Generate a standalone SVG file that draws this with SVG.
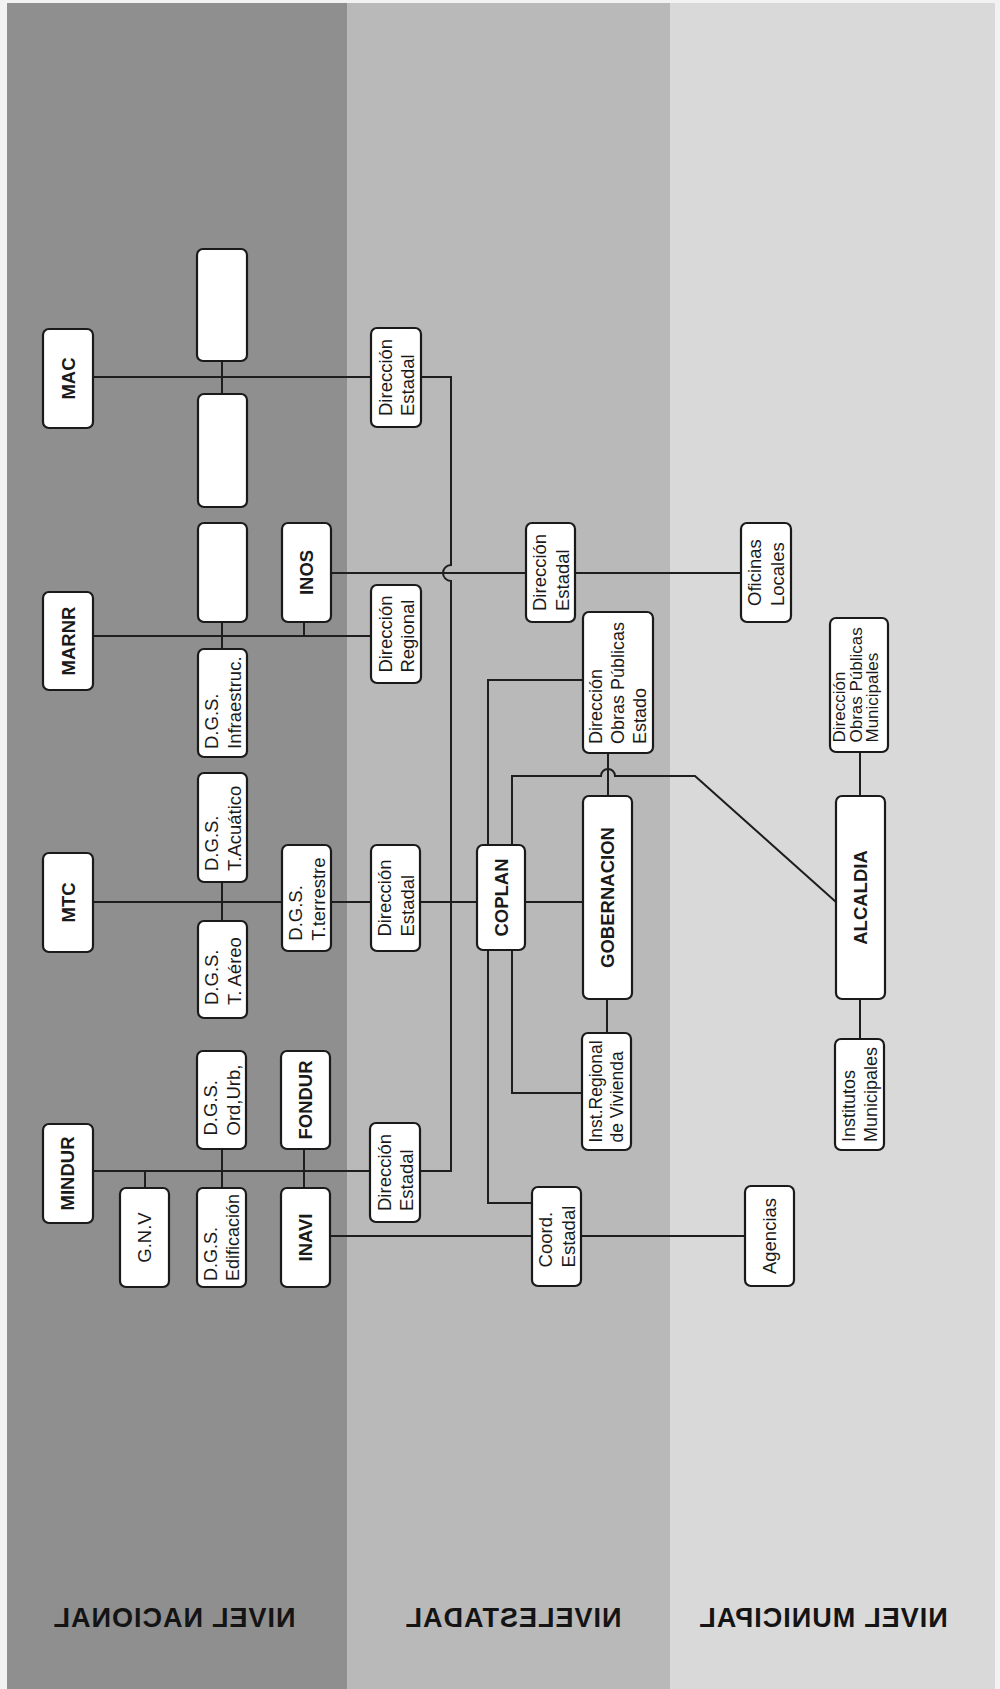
<svg xmlns="http://www.w3.org/2000/svg" width="1000" height="1689" viewBox="0 0 1000 1689">
<style>
.box{fill:#ffffff;stroke:#1a1a1a;stroke-width:2.2}
.ln{fill:none;stroke:#1e1e1e;stroke-width:2}
.t{font-family:"Liberation Sans",Arial,sans-serif;font-size:18.5px;fill:#1a1a1a}
.b{font-family:"Liberation Sans",Arial,sans-serif;font-size:18.5px;font-weight:bold;fill:#1a1a1a;text-anchor:middle}
.lvl{font-family:"Liberation Sans",Arial,sans-serif;font-size:27px;font-weight:bold;fill:#141414;text-anchor:middle;letter-spacing:1px}
</style>
<rect x="0" y="0" width="1000" height="1689" fill="#f2f2f2"/>
<g id="bands">
<rect x="7" y="3" width="340" height="1686" fill="#8f8f8f"/>
<rect x="347" y="3" width="323" height="1686" fill="#b9b9b9"/>
<rect x="670" y="3" width="325" height="1686" fill="#d9d9d9"/>
</g>
<g id="connectors">
<path class="ln" d="M93,377 H371"/>
<path class="ln" d="M222,361 V394"/>
<path class="ln" d="M421,377 H451 V565 A8,8 0 0 0 451,581 V1171 H420"/>
<path class="ln" d="M331,573 H526 M575,573 H741"/>
<path class="ln" d="M93,636 H371"/>
<path class="ln" d="M222,622 V649"/>
<path class="ln" d="M304,622 V636"/>
<path class="ln" d="M93,902 H282 M331,902 H371 M420,902 H477 M525,902 H583"/>
<path class="ln" d="M222,882 V921"/>
<path class="ln" d="M488,845 V680 H583"/>
<path class="ln" d="M512,845 V776 H601 A7,7 0 0 1 615,776 H695 L836,902"/>
<path class="ln" d="M608,753 V796"/>
<path class="ln" d="M607,999 V1033"/>
<path class="ln" d="M488,950 V1203 H532"/>
<path class="ln" d="M512,950 V1093 H582"/>
<path class="ln" d="M860,752 V796"/>
<path class="ln" d="M860,999 V1039"/>
<path class="ln" d="M93,1171 H370"/>
<path class="ln" d="M145,1171 V1188"/>
<path class="ln" d="M222,1149 V1188"/>
<path class="ln" d="M304,1149 V1188"/>
<path class="ln" d="M330,1236 H532 M581,1236 H745"/>
</g>
<g id="mac"><rect class="box" x="43" y="329" width="50" height="99" rx="6"/><text class="b" transform="translate(74.6,378.5) rotate(-90)">MAC</text></g>
<g id="blank1"><rect class="box" x="197" y="249" width="50" height="112" rx="6"/></g>
<g id="blank2"><rect class="box" x="198" y="394" width="49" height="113" rx="6"/></g>
<g id="blank3"><rect class="box" x="198" y="523" width="49" height="99" rx="6"/></g>
<g id="inos"><rect class="box" x="282" y="523" width="49" height="99" rx="6"/><text class="b" transform="translate(313,572.5) rotate(-90)">INOS</text></g>
<g id="dir-estadal-mac"><rect class="box" x="371" y="328" width="50" height="99" rx="6"/><text class="t" transform="translate(391.5,416) rotate(-90)"><tspan x="0">Dirección</tspan><tspan x="0" dy="22.5">Estadal</tspan></text></g>
<g id="marnr"><rect class="box" x="43" y="592" width="50" height="98" rx="6"/><text class="b" transform="translate(74.6,641) rotate(-90)">MARNR</text></g>
<g id="dir-regional"><rect class="box" x="371" y="585" width="50" height="98" rx="6"/><text class="t" transform="translate(391.5,672.6) rotate(-90)"><tspan x="0">Dirección</tspan><tspan x="0" dy="22.5">Regional</tspan></text></g>
<g id="dgs-infraestruc"><rect class="box" x="198" y="649" width="49" height="108" rx="6"/><text class="t" transform="translate(218,749) rotate(-90)"><tspan x="0">D.G.S.</tspan><tspan x="0" dy="22.5">Infraestruc.</tspan></text></g>
<g id="dgs-acuatico"><rect class="box" x="198" y="773" width="49" height="109" rx="6"/><text class="t" transform="translate(218,871) rotate(-90)"><tspan x="0">D.G.S.</tspan><tspan x="0" dy="22.5">T.Acuático</tspan></text></g>
<g id="mtc"><rect class="box" x="43" y="853" width="50" height="99" rx="6"/><text class="b" transform="translate(74.6,902.5) rotate(-90)">MTC</text></g>
<g id="dgs-aereo"><rect class="box" x="198" y="921" width="49" height="97" rx="6"/><text class="t" transform="translate(218,1005) rotate(-90)"><tspan x="0">D.G.S.</tspan><tspan x="0" dy="22.5">T. Aéreo</tspan></text></g>
<g id="dgs-terrestre"><rect class="box" x="282" y="845" width="49" height="106" rx="6"/><text class="t" transform="translate(302,940.7) rotate(-90)"><tspan x="0">D.G.S.</tspan><tspan x="0" dy="22.5">T.terrestre</tspan></text></g>
<g id="dir-estadal-mtc"><rect class="box" x="371" y="845" width="49" height="106" rx="6"/><text class="t" transform="translate(391,936.6) rotate(-90)"><tspan x="0">Dirección</tspan><tspan x="0" dy="22.5">Estadal</tspan></text></g>
<g id="coplan"><rect class="box" x="477" y="845" width="48" height="105" rx="6"/><text class="b" transform="translate(507.6,897.5) rotate(-90)">COPLAN</text></g>
<g id="dir-estadal-inos"><rect class="box" x="526" y="523" width="49" height="99" rx="6"/><text class="t" transform="translate(546,611) rotate(-90)"><tspan x="0">Dirección</tspan><tspan x="0" dy="22.5">Estadal</tspan></text></g>
<g id="oficinas-locales"><rect class="box" x="741" y="523" width="50" height="99" rx="6"/><text class="t" transform="translate(761,606) rotate(-90)"><tspan x="0">Oficinas</tspan><tspan x="0" dy="22.5">Locales</tspan></text></g>
<g id="dir-obras-publicas-estado"><rect class="box" x="583" y="612" width="70" height="141" rx="6"/><text class="t" style="font-size:18px" transform="translate(602,744) rotate(-90)"><tspan x="0">Dirección</tspan><tspan x="0" dy="22">Obras Públicas</tspan><tspan x="0" dy="22">Estado</tspan></text></g>
<g id="dir-obras-publicas-municipales"><rect class="box" x="830" y="618" width="58" height="134" rx="6"/><text class="t" style="font-size:17px" transform="translate(845,742.5) rotate(-90)"><tspan x="0">Dirección</tspan><tspan x="0" dy="16.5">Obras Públicas</tspan><tspan x="0" dy="16.5">Municipales</tspan></text></g>
<g id="gobernacion"><rect class="box" x="583" y="796" width="49" height="203" rx="6"/><text class="b" transform="translate(614,897.5) rotate(-90)">GOBERNACION</text></g>
<g id="alcaldia"><rect class="box" x="836" y="796" width="49" height="203" rx="6"/><text class="b" transform="translate(867,897.5) rotate(-90)">ALCALDIA</text></g>
<g id="inst-regional-vivienda"><rect class="box" x="582" y="1033" width="49" height="117" rx="6"/><text class="t" style="font-size:17.5px" transform="translate(602,1142.5) rotate(-90)"><tspan x="0">Inst.Regional</tspan><tspan x="0" dy="21">de Vivienda</tspan></text></g>
<g id="institutos-municipales"><rect class="box" x="835" y="1039" width="49" height="111" rx="6"/><text class="t" style="font-size:18px" transform="translate(855,1142) rotate(-90)"><tspan x="0">Institutos</tspan><tspan x="0" dy="22">Municipales</tspan></text></g>
<g id="mindur"><rect class="box" x="43" y="1124" width="50" height="99" rx="6"/><text class="b" transform="translate(74,1173.5) rotate(-90)">MINDUR</text></g>
<g id="dgs-ord-urb"><rect class="box" x="197" y="1051" width="49" height="98" rx="6"/><text class="t" transform="translate(217,1135.5) rotate(-90)"><tspan x="0">D.G.S.</tspan><tspan x="0" dy="22.5">Ord,Urb,</tspan></text></g>
<g id="fondur"><rect class="box" x="281" y="1051" width="49" height="98" rx="6"/><text class="b" transform="translate(312,1100) rotate(-90)">FONDUR</text></g>
<g id="gnv"><rect class="box" x="120" y="1188" width="49" height="99" rx="6"/><text class="t" text-anchor="middle" transform="translate(151,1237.5) rotate(-90)">G.N.V</text></g>
<g id="dgs-edificacion"><rect class="box" x="197" y="1188" width="49" height="99" rx="6"/><text class="t" style="font-size:18px" transform="translate(217,1281) rotate(-90)"><tspan x="0">D.G.S.</tspan><tspan x="0" dy="22">Edificación</tspan></text></g>
<g id="inavi"><rect class="box" x="281" y="1188" width="49" height="99" rx="6"/><text class="b" transform="translate(312,1237.5) rotate(-90)">INAVI</text></g>
<g id="dir-estadal-mindur"><rect class="box" x="370" y="1123" width="50" height="99" rx="6"/><text class="t" transform="translate(390.5,1211) rotate(-90)"><tspan x="0">Dirección</tspan><tspan x="0" dy="22.5">Estadal</tspan></text></g>
<g id="coord-estadal"><rect class="box" x="532" y="1187" width="49" height="99" rx="6"/><text class="t" transform="translate(552,1267.4) rotate(-90)"><tspan x="0">Coord.</tspan><tspan x="0" dy="22.5">Estadal</tspan></text></g>
<g id="agencias"><rect class="box" x="745" y="1186" width="49" height="100" rx="6"/><text class="t" text-anchor="middle" transform="translate(776,1236) rotate(-90)">Agencias</text></g>
<g id="level-labels">
<text class="lvl" transform="translate(174,1627) scale(-1,1)">NIVEL NACIONAL</text>
<text class="lvl" transform="translate(513,1627) scale(-1,1)">NIVELESTADAL</text>
<text class="lvl" transform="translate(823,1627) scale(-1,1)">NIVEL MUNICIPAL</text>
</g>
</svg>
